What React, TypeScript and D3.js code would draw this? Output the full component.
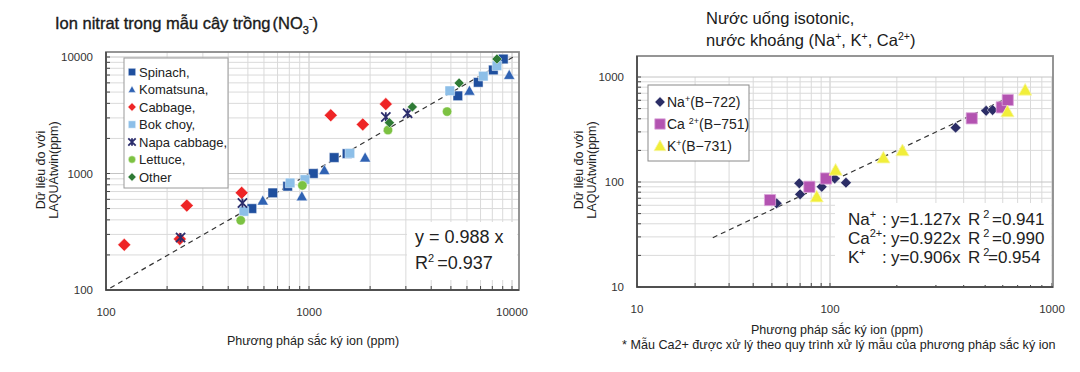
import React from 'react';
import * as d3 from 'd3';

type Pt = [number, number];

// Left panel – nitrate in vegetables (ion chromatography ppm, LAQUAtwin ppm)
const spinach: Pt[] = [[523, 500], [663, 682], [785, 778], [1050, 1000], [1330, 1370], [1540, 1480], [5410, 4640], [6820, 6060], [8090, 7740], [9060, 9610]];
const komatsuna: Pt[] = [[592, 585], [922, 636], [1190, 1067], [1890, 1370], [6170, 5130], [9690, 7010]];
const cabbage: Pt[] = [[123, 244], [231, 274], [250, 530], [466, 682], [1280, 3160], [1840, 2640], [2390, 3940]];
const bokChoy: Pt[] = [[478, 473], [807, 830], [955, 887], [1590, 1490], [4940, 5130], [7220, 6850], [8430, 8410]];
const napaCabbage: Pt[] = [[233, 282], [470, 558], [2390, 3060], [3060, 3290]];
const lettuce: Pt[] = [[461, 396], [928, 790], [2450, 2360], [4790, 3400]];
const other: Pt[] = [[2490, 2730], [3230, 3730], [5490, 5970], [8430, 9610]];
const fitLeft: Pt[] = [[105, 104], [10500, 10370]];
const leftTicks = [100, 1000, 10000];

// Right panel – isotonic drinks / mineral water
const sodium: Pt[] = [[52.9, 62.6], [69.3, 97.2], [70, 76.3], [90.6, 90], [105, 108], [118, 98.5], [368, 329], [505, 477], [540, 485]];
const calcium: Pt[] = [[48.9, 67.3], [78.2, 90], [95.3, 108], [435, 404], [594, 514], [632, 604]];
const potassium: Pt[] = [[85.3, 72.4], [106, 130], [174, 170], [212, 199], [630, 467], [757, 752]];
const fitRight: Pt[] = [[24.7, 29.5], [614, 613]];
const rightTicks = [10, 100, 1000];

const FONT = '"Liberation Sans", Arial, Helvetica, sans-serif';

interface Series { name: string; data: Pt[]; shape: string; color: string; r: number; stroke?: string; }

const leftSeries: Series[] = [
  { name: 'Spinach,', data: spinach, shape: 'square', color: '#1f4f9e', r: 4.8 },
  { name: 'Komatsuna,', data: komatsuna, shape: 'triangle', color: '#2f62b3', r: 5.6 },
  { name: 'Cabbage,', data: cabbage, shape: 'diamond', color: '#ee2526', r: 6.5 },
  { name: 'Bok choy,', data: bokChoy, shape: 'square', color: '#8dbfe8', r: 4.8 },
  { name: 'Napa cabbage,', data: napaCabbage, shape: 'star', color: '#2b2d6c', r: 4.6 },
  { name: 'Lettuce,', data: lettuce, shape: 'circle', color: '#7cc242', r: 4.7 },
  { name: 'Other', data: other, shape: 'diamond', color: '#2e7a35', r: 5 },
];

const rightSeries: Series[] = [
  { name: 'Na', data: sodium, shape: 'diamond', color: '#2b2d66', r: 5.4 },
  { name: 'Ca', data: calcium, shape: 'square', color: '#b353b1', r: 5.6, stroke: '#dca6da' },
  { name: 'K', data: potassium, shape: 'triangle', color: '#f1ee3a', r: 6.6, stroke: '#f8f6a6' },
];

const markerPath = (shape: string, r: number) => {
  const p = d3.path();
  if (shape === 'square') p.rect(-r, -r, 2 * r, 2 * r);
  else if (shape === 'diamond') { p.moveTo(0, -r); p.lineTo(r, 0); p.lineTo(0, r); p.lineTo(-r, 0); p.closePath(); }
  else if (shape === 'triangle') { p.moveTo(0, -r); p.lineTo(r, r * 0.78); p.lineTo(-r, r * 0.78); p.closePath(); }
  else if (shape === 'circle') { p.moveTo(r, 0); p.arc(0, 0, r, 0, 2 * Math.PI); }
  else { p.moveTo(-r, -r); p.lineTo(r, r); p.moveTo(r, -r); p.lineTo(-r, r); p.moveTo(0, -r); p.lineTo(0, r); }
  return p.toString();
};

const drawMarker = (g: any, s: Series, r: number) => {
  g.append('path')
    .attr('d', markerPath(s.shape, r))
    .attr('fill', s.shape === 'star' ? 'none' : s.color)
    .attr('stroke', s.shape === 'star' ? s.color : (s.stroke || 'rgba(255,255,255,0.6)'))
    .attr('stroke-width', s.shape === 'star' ? 1.8 : 0.8);
};

// 1..9 × each decade between lo and hi
const minorValues = (lo: number, hi: number) => {
  const out: number[] = [];
  for (let e = lo; e < hi; e *= 10) d3.range(1, 10).forEach(k => out.push(k * e));
  out.push(hi);
  return out;
};

interface Panel {
  x: d3.ScaleLogarithmic<number, number>;
  y: d3.ScaleLogarithmic<number, number>;
  frame: { x0: number; x1: number; y0: number; y1: number };
  ticks: number[];
  series: Series[];
  fit: Pt[];
  vGridTop: number;
}

const drawPanel = (svg: any, p: Panel) => {
  const { x, y, frame } = p;
  const lo = p.ticks[0], hi = p.ticks[p.ticks.length - 1];
  const g = svg.append('g');

  g.append('rect').attr('x', frame.x0).attr('y', frame.y0)
    .attr('width', frame.x1 - frame.x0).attr('height', frame.y1 - frame.y0).attr('fill', '#fff');

  const vals = minorValues(lo, hi);
  g.append('g').selectAll('line').data(vals.filter(v => v > lo)).join('line')
    .attr('x1', (d: number) => x(d)).attr('x2', (d: number) => x(d))
    .attr('y1', p.vGridTop).attr('y2', frame.y1)
    .attr('stroke', (d: number) => p.ticks.includes(d) ? '#c4c4c4' : '#dadada').attr('stroke-width', 1);
  g.append('g').selectAll('line').data(vals.filter(v => v > lo)).join('line')
    .attr('x1', frame.x0).attr('x2', frame.x1)
    .attr('y1', (d: number) => y(d)).attr('y2', (d: number) => y(d))
    .attr('stroke', (d: number) => p.ticks.includes(d) ? '#c4c4c4' : '#dadada').attr('stroke-width', 1);

  // inner minor ticks
  g.append('g').selectAll('line').data(vals).join('line')
    .attr('x1', (d: number) => x(d)).attr('x2', (d: number) => x(d))
    .attr('y1', frame.y1).attr('y2', frame.y1 - 4).attr('stroke', '#444');
  g.append('g').selectAll('line').data(vals).join('line')
    .attr('x1', frame.x0).attr('x2', frame.x0 + 4)
    .attr('y1', (d: number) => y(d)).attr('y2', (d: number) => y(d)).attr('stroke', '#444');

  // frame
  g.append('rect').attr('x', frame.x0).attr('y', frame.y0)
    .attr('width', frame.x1 - frame.x0).attr('height', frame.y1 - frame.y0)
    .attr('fill', 'none').attr('stroke', '#8a8a8a').attr('stroke-width', 1.8);
  g.append('path').attr('d', `M${frame.x0},${frame.y0}V${frame.y1}H${frame.x1}`)
    .attr('fill', 'none').attr('stroke', '#3a3a3a').attr('stroke-width', 1.4);

  // tick labels
  g.append('g').selectAll('text').data(p.ticks).join('text')
    .attr('x', frame.x0 - 13).attr('y', (d: number) => y(d) + 4)
    .attr('text-anchor', 'end').attr('font-size', 11.5).attr('fill', '#333')
    .text((d: number) => String(d));
  g.append('g').selectAll('text').data(p.ticks).join('text')
    .attr('x', (d: number) => x(d)).attr('y', frame.y1 + 26)
    .attr('text-anchor', 'middle').attr('font-size', 11.5).attr('fill', '#333')
    .text((d: number) => String(d));

  return g;
};

const drawPoints = (g: any, p: Panel) => {
  const line = d3.line<Pt>().x(d => p.x(d[0])).y(d => p.y(d[1]));
  g.append('path').attr('d', line(p.fit)).attr('fill', 'none')
    .attr('stroke', '#333').attr('stroke-width', 1.2).attr('stroke-dasharray', '5,4');
  p.series.forEach(s => {
    s.data.forEach(d => {
      const m = g.append('g').attr('transform', `translate(${p.x(d[0])},${p.y(d[1])})`);
      drawMarker(m, s, s.r);
    });
  });
};

const yTitle = (svg: any, cx: number, cy: number) => {
  ['Dữ liệu đo với', 'LAQUAtwin(ppm)'].forEach((t, i) => {
    svg.append('text').attr('transform', `translate(${cx + i * 13},${cy}) rotate(-90)`)
      .attr('text-anchor', 'middle').attr('font-size', 12.5).attr('fill', '#222').text(t);
  });
};

export default function App() {
  const ref = React.useRef<SVGSVGElement>(null);

  React.useEffect(() => {
    if (!ref.current) return;
    const svg = d3.select(ref.current);
    svg.selectAll('*').remove();
    svg.attr('font-family', FONT);

    // ---------- left panel ----------
    const left: Panel = {
      x: d3.scaleLog().domain([100, 10000]).range([106, 512]),
      y: d3.scaleLog().domain([100, 10000]).range([290, 57]),
      frame: { x0: 106, x1: 519, y0: 52, y1: 290 },
      ticks: leftTicks,
      series: leftSeries,
      fit: fitLeft,
      vGridTop: 52,
    };
    const gl = drawPanel(svg, left);

    gl.append('rect').attr('x', 407).attr('y', 222).attr('width', 110).attr('height', 58).attr('fill', '#fff');
    const lg = gl.append('g');
    lg.append('rect').attr('x', 124).attr('y', 58).attr('width', 104).attr('height', 130)
      .attr('fill', '#fff').attr('stroke', '#9a9a9a').attr('stroke-width', 1);
    leftSeries.forEach((s, i) => {
      const cy = 72 + i * 17.5;
      drawMarker(lg.append('g').attr('transform', `translate(132,${cy})`), s, s.shape === 'diamond' ? 4.2 : 3.7);
      lg.append('text').attr('x', 139).attr('y', cy + 4.5).attr('font-size', 13).attr('fill', '#222').text(s.name);
    });

    drawPoints(gl, left);

    gl.append('text').attr('x', 415).attr('y', 243).attr('font-size', 18).attr('fill', '#222').text('y = 0.988 x');
    const r2 = gl.append('text').attr('x', 415).attr('y', 269).attr('font-size', 18).attr('fill', '#222');
    r2.append('tspan').text('R');
    r2.append('tspan').attr('dy', -7).attr('font-size', 11).text('2');
    r2.append('tspan').attr('dy', 7).attr('dx', 3).text('=0.937');

    const t1 = svg.append('text').attr('x', 55).attr('y', 29).attr('font-size', 16.5).attr('fill', '#1a1a1a')
      .attr('stroke', '#1a1a1a').attr('stroke-width', 0.35);
    t1.append('tspan').text('Ion nitrat trong mẫu cây trồng');
    t1.append('tspan').attr('dx', 2).text('(NO');
    t1.append('tspan').attr('dy', 5).attr('font-size', 11).text('3');
    t1.append('tspan').attr('dy', -12).attr('font-size', 11).text('-');
    t1.append('tspan').attr('dy', 7).text(')');

    yTitle(svg, 45, 170);
    svg.append('text').attr('x', 313).attr('y', 345).attr('text-anchor', 'middle')
      .attr('font-size', 12.5).attr('fill', '#222').text('Phương pháp sắc ký ion (ppm)');

    // ---------- right panel ----------
    const right: Panel = {
      x: d3.scaleLog().domain([10, 100, 1000]).range([637, 830, 1052]),
      y: d3.scaleLog().domain([10, 100, 1000]).range([287, 182, 77]),
      frame: { x0: 637, x1: 1053, y0: 56, y1: 287 },
      ticks: rightTicks,
      series: rightSeries,
      fit: fitRight,
      vGridTop: 77,
    };
    const gr = drawPanel(svg, right);

    gr.append('rect').attr('x', 835).attr('y', 203).attr('width', 216).attr('height', 82).attr('fill', '#fff');
    const rg = gr.append('g');
    rg.append('rect').attr('x', 648).attr('y', 85).attr('width', 101).attr('height', 76)
      .attr('fill', '#fff').attr('stroke', '#8a8a8a').attr('stroke-width', 1);
    const legendLabels = [['Na', '+', '(B−722)'], ['Ca ', '2+', '(B−751)'], ['K', '+', '(B−731)']];
    rightSeries.forEach((s, i) => {
      const cy = 102 + i * 22;
      drawMarker(rg.append('g').attr('transform', `translate(660,${cy})`), s, s.shape === 'triangle' ? 6 : 5.2);
      const t = rg.append('text').attr('x', 667).attr('y', cy + 5).attr('font-size', 14).attr('fill', '#222');
      t.append('tspan').text(legendLabels[i][0]);
      t.append('tspan').attr('dy', -5).attr('font-size', 9).text(legendLabels[i][1]);
      t.append('tspan').attr('dy', 5).text(legendLabels[i][2]);
    });

    drawPoints(gr, right);

    const eqRows = [
      { ion: 'Na', sup: '+', eq: 'y=1.127x', r2: '=0.941', rx: 992 },
      { ion: 'Ca', sup: '2+', eq: 'y=0.922x', r2: '=0.990', rx: 992 },
      { ion: 'K', sup: '+', eq: 'y=0.906x', r2: '=0.954', rx: 988 },
    ];
    eqRows.forEach((row, i) => {
      const by = 225 + i * 19;
      const a = gr.append('text').attr('x', 848).attr('y', by).attr('font-size', 17).attr('fill', '#222');
      a.append('tspan').text(row.ion);
      a.append('tspan').attr('dy', -7).attr('font-size', 11).text(row.sup);
      gr.append('text').attr('x', 882).attr('y', by).attr('font-size', 17).attr('fill', '#222').text(':');
      gr.append('text').attr('x', 891).attr('y', by).attr('font-size', 17).attr('fill', '#222').text(row.eq);
      const b = gr.append('text').attr('x', 968).attr('y', by).attr('font-size', 17).attr('fill', '#222');
      b.append('tspan').text('R');
      b.append('tspan').attr('dx', 3).attr('dy', -7).attr('font-size', 11).text('2');
      gr.append('text').attr('x', row.rx).attr('y', by).attr('font-size', 17).attr('fill', '#222').text(row.r2);
    });

    const t2 = svg.append('text').attr('x', 706).attr('y', 24).attr('font-size', 16.5).attr('fill', '#1a1a1a');
    t2.text('Nước uống isotonic,');
    const t3 = svg.append('text').attr('x', 706).attr('y', 46).attr('font-size', 16.5).attr('fill', '#1a1a1a');
    t3.append('tspan').text('nước khoáng (Na');
    t3.append('tspan').attr('dy', -6).attr('font-size', 10.5).text('+');
    t3.append('tspan').attr('dy', 6).text(', K');
    t3.append('tspan').attr('dy', -6).attr('font-size', 10.5).text('+');
    t3.append('tspan').attr('dy', 6).text(', Ca');
    t3.append('tspan').attr('dy', -6).attr('font-size', 10.5).text('2+');
    t3.append('tspan').attr('dy', 6).text(')');

    yTitle(svg, 583, 170);
    svg.append('text').attr('x', 837).attr('y', 334).attr('text-anchor', 'middle')
      .attr('font-size', 12.5).attr('fill', '#222').text('Phương pháp sắc ký ion (ppm)');
    svg.append('text').attr('x', 622).attr('y', 349)
      .attr('font-size', 12.6).attr('fill', '#222')
      .text('*  Mẫu Ca2+ được xử lý theo quy trình xử lý mẫu của phương pháp sắc ký ion');
  }, []);

  return (
    <div style={{ position: 'fixed', left: 0, top: 0, width: 1080, height: 372, background: '#fff' }}>
      <svg ref={ref} width={1080} height={372} style={{ display: 'block' }} />
    </div>
  );
}
